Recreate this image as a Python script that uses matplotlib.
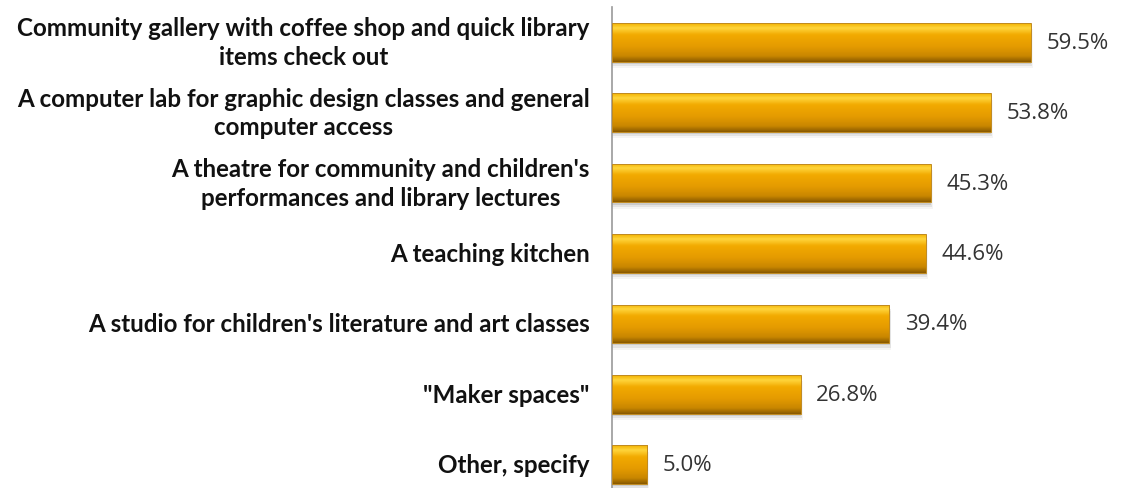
import numpy as np
import matplotlib.pyplot as plt
from matplotlib.colors import LinearSegmentedColormap
from matplotlib.patches import Rectangle

categories = [
    "Community gallery with coffee shop and quick library\nitems check out",
    "A computer lab for graphic design classes and general\ncomputer access",
    "A theatre for community and children's\nperformances and library lectures",
    "A teaching kitchen",
    "A studio for children's literature and art classes",
    "\"Maker spaces\"",
    "Other, specify",
]
values = [59.5, 53.8, 45.3, 44.6, 39.4, 26.8, 5.0]

bar_h = 0.55
# top highlight -> orange body -> dark bottom edge
gold = LinearSegmentedColormap.from_list(
    "gold", [(0.0, "#f2b200"), (0.12, "#ffd53c"), (0.3, "#f2aa00"),
             (0.6, "#e59b00"), (0.85, "#c98700"), (1.0, "#8a5a00")]
)
grad = np.linspace(0, 1, 64).reshape(-1, 1)

fig = plt.figure(figsize=(11.23, 4.89), dpi=100)
ax = fig.add_axes([0.545, 0.0, 0.455, 1 - 8 / 489])
ax.set_xlim(0, 72.6)
ax.set_ylim(6.33, -0.5)

for i, v in enumerate(values):
    y0, y1 = i - bar_h / 2, i + bar_h / 2
    # soft drop shadow under each bar
    for k, a in enumerate([0.10, 0.07, 0.04]):
        d = 0.03 * (k + 1)
        ax.add_patch(Rectangle((0, y0 + d), v + d * 3, bar_h, color="black",
                               alpha=a, lw=0, zorder=1))
    im = ax.imshow(grad, cmap=gold, aspect="auto", extent=(0, v, y1, y0),
                   origin="upper", zorder=2, interpolation="bilinear")
    rect = Rectangle((0, y0), v, bar_h, fc="none", ec="#c08a20", lw=0.7, zorder=3)
    ax.add_patch(rect)
    im.set_clip_path(rect)
    ax.text(v + 2.2, i, f"{v:.1f}%", va="center", ha="left",
            fontsize=16, color="#333333", family="Open Sans")
    ax.text(-3.2, i, categories[i], va="center", ha="right", multialignment="center",
            fontsize=17.4, fontweight="bold", color="#111111", family="Lato",
            linespacing=1.3)

ax.set_xlim(0, 72.6)
ax.set_ylim(6.33, -0.5)
for s in ["top", "right", "bottom"]:
    ax.spines[s].set_visible(False)
ax.spines["left"].set_color("#999999")
ax.spines["left"].set_linewidth(1.2)
ax.set_xticks([])
ax.set_yticks([])
ax.patch.set_alpha(0)

fig.savefig("out.png", dpi=100)
